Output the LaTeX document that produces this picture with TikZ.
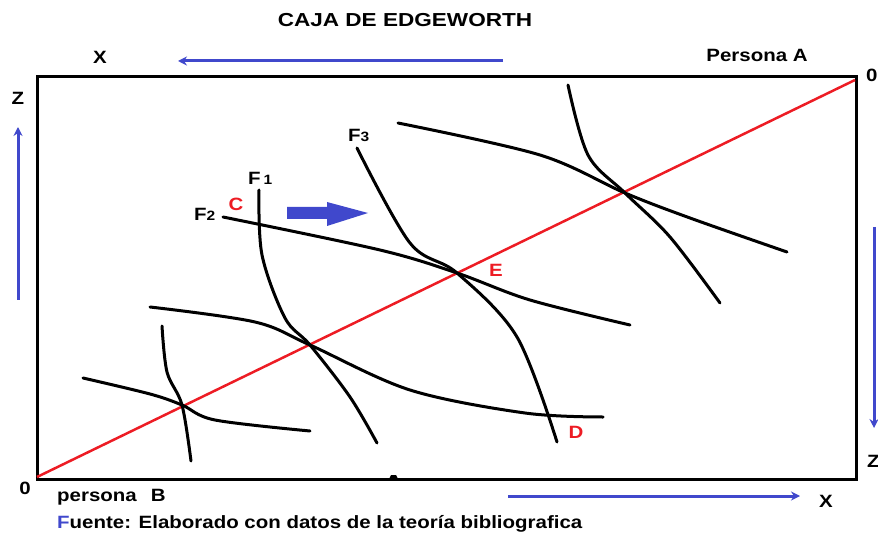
\documentclass[tikz,border=0pt]{standalone}
\usepackage{fontspec}
\setmainfont{Liberation Sans}
\newfontfamily\lab[FakeStretch=1.15]{Liberation Sans}
\newfontfamily\labw[FakeStretch=1.2]{Liberation Sans}
\usetikzlibrary{arrows.meta}
\definecolor{pblue}{RGB}{64,72,204}
\definecolor{pred}{RGB}{237,28,36}
\tikzset{
  txt/.style={font=\lab\bfseries\fontsize{17.8}{18}\selectfont, inner sep=0pt},
  redtxt/.style={txt, text=pred},
  curve/.style={line width=3pt, line cap=round},
  barrow/.style={pblue, line width=3pt, -{Stealth[length=9pt,width=9pt]}},
}
\begin{document}
\begin{tikzpicture}[x=1pt,y=-1pt]
\useasboundingbox (0,0) rectangle (878,534);
% box
\draw[line width=3pt] (37,77) rectangle (856,479);
\fill (389,479) -- (391,475) -- (396,475) -- (398,479) -- cycle;
% diagonal
\coordinate (OB) at (37,477);
\coordinate (OA) at (855,80);
\draw[pred, line width=2.5pt] (OB) -- (OA);
% pair 1
\draw[curve] plot[smooth, tension=0.55] coordinates {(83,378) (150,394) (182,405) (215,420) (310,431)};
\draw[curve] plot[smooth, tension=0.55] coordinates {(162,326) (167,372) (182,405) (191,461)};
% pair 2
\draw[curve] plot[smooth, tension=0.55] coordinates {(259,190) (262,255) (285,318) (310,345) (350,397) (377,443)};
\draw[curve] plot[smooth, tension=0.55] coordinates {(150,307) (255,322) (310,345) (410,390) (525,413) (603,417)};
% pair 3
\draw[curve] plot[smooth, tension=0.55] coordinates {(223,217) (380,250) (457,273) (530,300) (630,325)};
\draw[curve] plot[smooth, tension=0.55] coordinates {(357,148) (410,243) (457,273) (517,337) (557,442)};
% pair 4
\draw[curve] plot[smooth, tension=0.55] coordinates {(398,123) (540,155) (625,193) (690,218) (787,252)};
\draw[curve] plot[smooth, tension=0.55] coordinates {(568,85) (588,155) (625,193) (670,237) (720,303)};
% block arrow
\fill[pblue] (287,207) -- (327,207) -- (327,202) -- (368,213) -- (327,226) -- (327,219) -- (287,219) -- cycle;
% axis arrows
\coordinate (t1) at (503,61); \coordinate (t2) at (178,61);
\draw[barrow] (t1) -- (t2);
\coordinate (b1) at (508,496); \coordinate (b2) at (800,496);
\draw[barrow] (b1) -- (b2);
\coordinate (l1) at (18,300); \coordinate (l2) at (18,127);
\draw[barrow] (l1) -- (l2);
\coordinate (r1) at (874,227); \coordinate (r2) at (874,428);
\draw[barrow] (r1) -- (r2);
% texts
\node[txt, font=\labw\bfseries\fontsize{18.8}{19}\selectfont] (title) at (405,20) {CAJA DE EDGEWORTH};
\node[txt] (xt) at (100,57) {X};
\node[txt] (pa) at (757,55) {Persona A};
\node[txt, anchor=west] (oa) at (866,75) {0};
\node[txt] (zl) at (18,98) {Z};
\node[txt, anchor=west] (pb) at (57,497) {persona\hspace{14pt}B};
\node[txt] (ob) at (25,488) {0};
\node[txt] (xb) at (826,501) {X};
\node[txt, anchor=west] (zr) at (867,461) {Z};
\node[txt, anchor=west] (src) at (57,524) {\textcolor{pblue}{F}uente: Elaborado con datos de la teoría bibliografica};
\node[txt, anchor=west] (f1) at (248,178) {F\,{\fontsize{13.5}{14}\selectfont 1}};
\node[txt, anchor=west] (f2) at (194,214) {F{\fontsize{13.5}{14}\selectfont 2}};
\node[txt, anchor=west] (f3) at (348,135) {F{\fontsize{13.5}{14}\selectfont 3}};
\node[redtxt] (C) at (236,204) {C};
\node[redtxt] (E) at (496,270) {E};
\node[redtxt] (D) at (576,432) {D};
\end{tikzpicture}
\end{document}
